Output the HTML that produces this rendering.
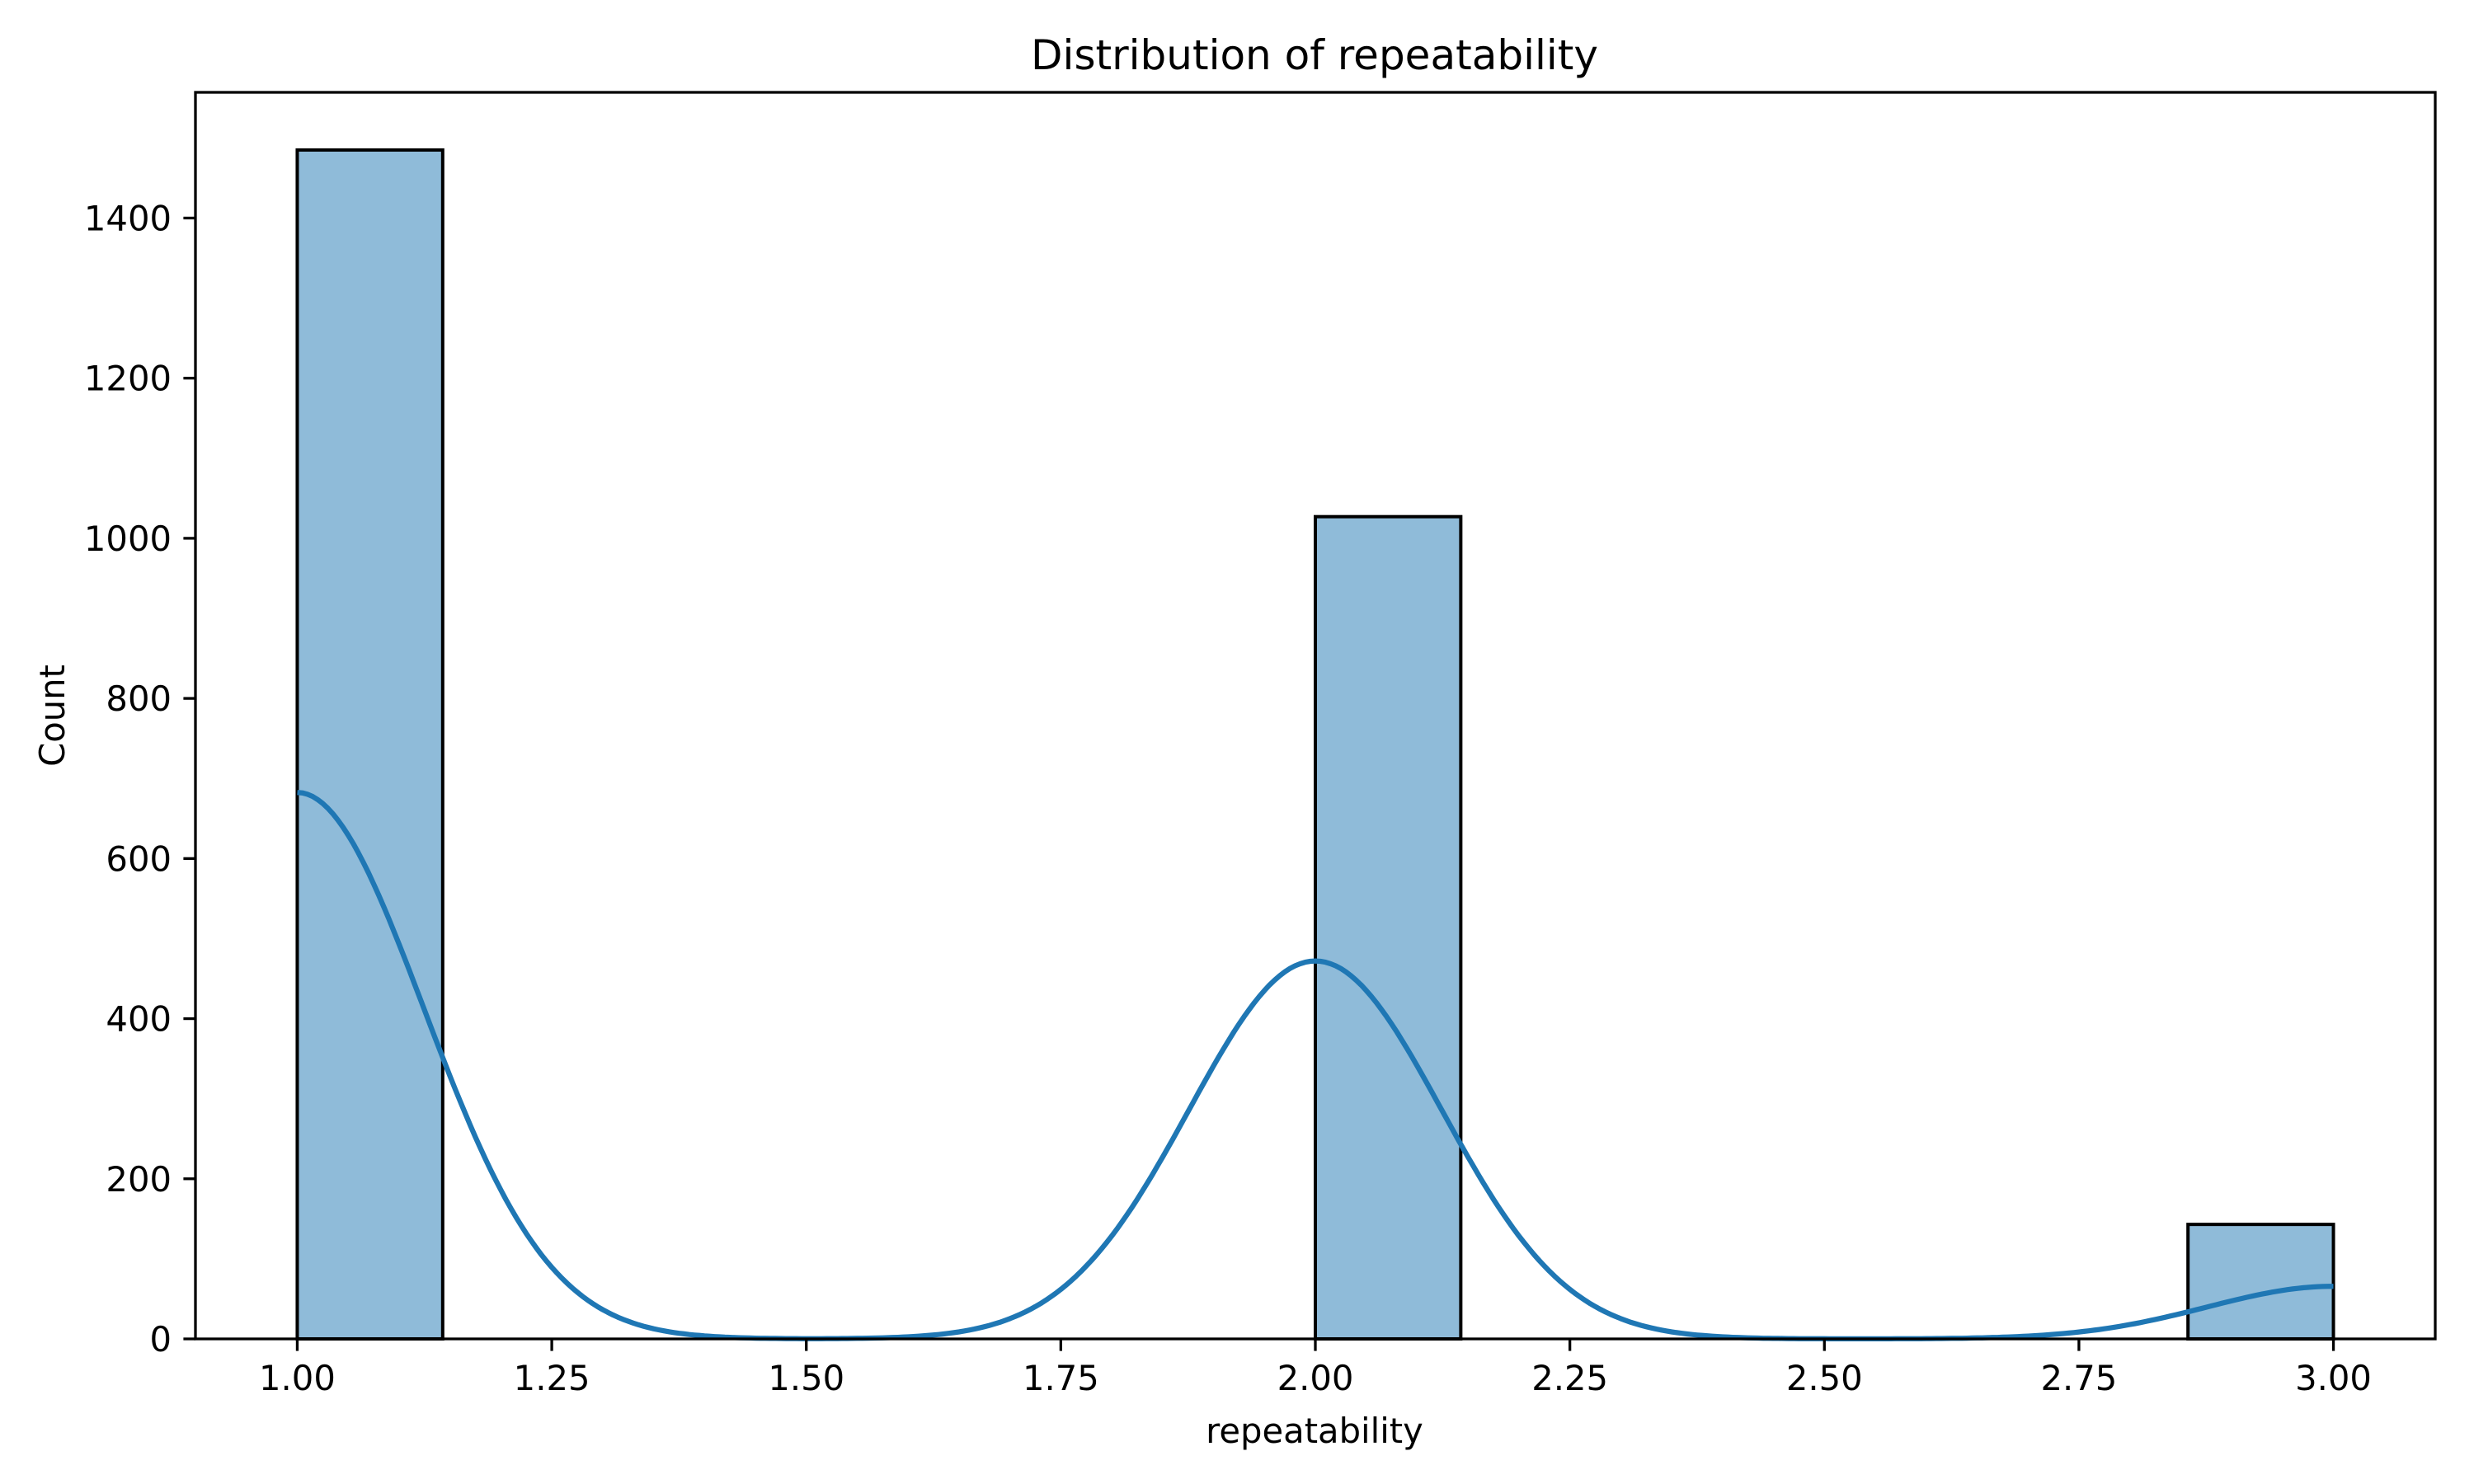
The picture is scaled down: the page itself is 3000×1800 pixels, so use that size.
<!DOCTYPE html>
<html><head><meta charset="utf-8"><style>
html,body{margin:0;padding:0;background:#fff;}
svg{display:block;font-family:"DejaVu Sans","Liberation Sans",sans-serif;}
</style></head><body>
<svg id="chart" width="3000" height="1800" viewBox="0 0 3000 1800" xmlns="http://www.w3.org/2000/svg">
<rect width="3000" height="1800" fill="#fff"/>
<g id="bars"></g>
<g id="kde"></g>
<g id="axes"></g>
<text x="1594" y="84" font-size="50" text-anchor="middle">Distribution of repeatability</text>
<text x="1594" y="1750" font-size="41.7" text-anchor="middle">repeatability</text>
<text x="0" y="0" font-size="41.7" text-anchor="middle" transform="translate(78,868) rotate(-90)">Count</text>
</svg>
<script>
const binEdges = [1, 1.142857, 1.285714, 1.428571, 1.571429, 1.714286, 1.857143, 2, 2.142857, 2.285714, 2.428571, 2.571429, 2.714286, 2.857143, 3];
const binCounts = [1485, 0, 0, 0, 0, 0, 0, 1027, 0, 0, 0, 0, 0, 143];
const xTicks = [1.00, 1.25, 1.50, 1.75, 2.00, 2.25, 2.50, 2.75, 3.00];
const xTickLabels = ["1.00","1.25","1.50","1.75","2.00","2.25","2.50","2.75","3.00"];
const yTicks = [0, 200, 400, 600, 800, 1000, 1200, 1400];
const yTickLabels = ["0","200","400","600","800","1000","1200","1400"];
const kdeBandwidth = 0.124;
const dataValues = [1, 2, 3];
const dataCounts = [1485, 1027, 143];

const L=237, R=2953, T=112, B=1624;
const xMin=0.9, xMax=3.1, yMax=1557;
const sx = v => L + (v-xMin)/(xMax-xMin)*(R-L);
const sy = v => B - v/yMax*(B-T);
const NS="http://www.w3.org/2000/svg";
function mk(tag, attrs, parent){const e=document.createElementNS(NS,tag);for(const k in attrs)e.setAttribute(k,attrs[k]);parent.appendChild(e);return e;}

const bars=document.getElementById('bars');
binCounts.forEach((c,i)=>{
  if(c<=0) return;
  const x0=sx(binEdges[i]), x1=sx(binEdges[i+1]);
  const r=mk('rect',{x:x0,y:sy(c),width:x1-x0,height:sy(0)-sy(c),fill:'rgba(31,119,180,0.5)',stroke:'#000','stroke-width':4},bars);
  
  
});

// KDE
const kde=document.getElementById('kde');
const total=dataCounts.reduce((a,b)=>a+b,0);
const bw=binEdges[1]-binEdges[0];
let pts=[];
const lo=Math.min(...dataValues), hi=Math.max(...dataValues);
for(let k=0;k<=400;k++){
  const x=lo+(hi-lo)*k/400;
  let d=0;
  dataValues.forEach((v,j)=>{const z=(x-v)/kdeBandwidth;d+=dataCounts[j]*Math.exp(-0.5*z*z)/(kdeBandwidth*Math.sqrt(2*Math.PI));});
  pts.push(sx(x).toFixed(1)+','+sy(d*bw).toFixed(1));
}
const pl=mk('polyline',{points:pts.join(' '),fill:'none',stroke:'#1f77b4','stroke-width':6.25,'stroke-linejoin':'round'},kde);



// axes
const ax=document.getElementById('axes');
const frame=mk('rect',{x:L,y:T,width:R-L,height:B-T,fill:'none',stroke:'#000','stroke-width':3.3},ax);


xTicks.forEach((v,i)=>{
  const x=sx(v);
  const t=mk('line',{x1:x,x2:x,y1:B,y2:B+14.6,stroke:'#000','stroke-width':3.3},ax);
  
  
  const tx=mk('text',{x:x,y:B+62,'font-size':41.7,'text-anchor':'middle'},ax);
  tx.textContent=xTickLabels[i];
  
  
});
yTicks.forEach((v,i)=>{
  const y=sy(v);
  const t=mk('line',{x1:L-14.6,x2:L,y1:y,y2:y,stroke:'#000','stroke-width':3.3},ax);
  
  
  const tx=mk('text',{x:L-29,y:y+15,'font-size':41.7,'text-anchor':'end'},ax);
  tx.textContent=yTickLabels[i];
  
  
});
</script>
</body></html>
